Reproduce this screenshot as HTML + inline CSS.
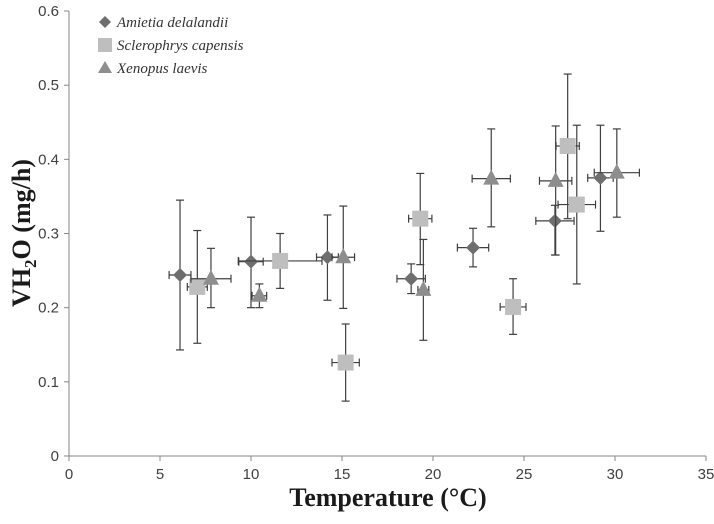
<!DOCTYPE html>
<html><head><meta charset="utf-8"><style>
body{margin:0;background:#fff}
svg text{font-family:"Liberation Sans",sans-serif}
</style></head><body>
<svg id="c" width="714" height="519" xmlns="http://www.w3.org/2000/svg"></svg>
<script>
const xTicks=[0,5,10,15,20,25,30,35];
const yTicks=[0,0.1,0.2,0.3,0.4,0.5,0.6];
const yTickLabels=["0","0.1","0.2","0.3","0.4","0.5","0.6"];
const seriesNames=["Amietia delalandii","Sclerophrys capensis","Xenopus laevis"];
const amX=[6.1,10.0,14.2,18.8,22.2,26.7,29.2];
const amY=[0.244,0.262,0.268,0.239,0.281,0.317,0.375];
const amYlo=[0.143,0.200,0.210,0.219,0.255,0.271,0.303];
const amYhi=[0.345,0.322,0.325,0.259,0.307,0.338,0.446];
const amXe=[0.6,0.67,0.6,0.78,0.86,1.05,0.7];
const scX=[7.05,11.6,15.2,19.3,24.4,27.4,27.9];
const scY=[0.228,0.263,0.126,0.320,0.201,0.418,0.339];
const scYlo=[0.152,0.226,0.074,0.258,0.164,0.320,0.232];
const scYhi=[0.304,0.300,0.178,0.381,0.239,0.515,0.446];
const scXe=[0.55,2.3,0.75,0.64,0.71,0.64,1.03];
const xlX=[7.8,10.46,15.07,19.47,23.2,26.74,30.1];
const xlY=[0.239,0.216,0.268,0.224,0.374,0.371,0.382];
const xlYlo=[0.200,0.200,0.199,0.156,0.309,0.271,0.322];
const xlYhi=[0.280,0.232,0.337,0.292,0.441,0.445,0.441];
const xlXe=[1.1,0.4,0.62,0.3,1.05,0.89,1.24];

const X0=69,X1=706,Y0=456,Y1=11;
const sx=v=>X0+(v-0)/35*(X1-X0);
const sy=v=>Y0-(v/0.6)*(Y0-Y1);
const svg=document.getElementById('c');
const NS="http://www.w3.org/2000/svg";
function mk(tag,attrs,parent){const e=document.createElementNS(NS,tag);for(const k in attrs)e.setAttribute(k,attrs[k]);(parent||svg).appendChild(e);return e;}

// axes
let ax=mk('line',{x1:X0,y1:Y1,x2:X0,y2:Y0,stroke:'#868686','stroke-width':1});


ax=mk('line',{x1:X0,y1:Y0,x2:X1,y2:Y0,stroke:'#868686','stroke-width':1});


xTicks.forEach(t=>{
  mk('line',{x1:sx(t),y1:Y0,x2:sx(t),y2:Y0+5,stroke:'#868686'});
  const tx=mk('text',{x:sx(t),y:Y0+23,'text-anchor':'middle','font-size':15,fill:'#404040'});
  tx.textContent=t;
  
  
});
yTicks.forEach((t,i)=>{
  mk('line',{x1:X0-5,y1:sy(t),x2:X0,y2:sy(t),stroke:'#868686'});
  const tx=mk('text',{x:X0-10,y:sy(t)+5,'text-anchor':'end','font-size':15,fill:'#404040'});
  tx.textContent=yTickLabels[i];
  
  
});
let t=mk('text',{x:388,y:506,'text-anchor':'middle','font-size':26,'font-weight':'bold',fill:'#1a1a1a',style:'font-family:"Liberation Serif",serif'});
t.textContent='Temperature (°C)';


t=mk('text',{x:0,y:0,'text-anchor':'middle','font-size':26,'font-weight':'bold',fill:'#1a1a1a',transform:'translate(30,233) rotate(-90)',style:'font-family:"Liberation Serif",serif'});
t.innerHTML='VH<tspan font-size="17" dy="6">2</tspan><tspan dy="-6">O (mg/h)</tspan>';



const colors=['#6e6e6e','#bebebe','#8e8e8e'];
function marker(k,cx,cy,g){
  if(k===0) return mk('polygon',{points:`${cx},${cy-7} ${cx+7},${cy} ${cx},${cy+7} ${cx-7},${cy}`,fill:colors[0]},g);
  if(k===1) return mk('rect',{x:cx-8,y:cy-8,width:16,height:16,fill:colors[1]},g);
  return mk('polygon',{points:`${cx},${cy-9} ${cx+8},${cy+6} ${cx-8},${cy+6}`,fill:colors[2]},g);
}
const all=[[amX,amY,amYlo,amYhi,amXe],[scX,scY,scYlo,scYhi,scXe],[xlX,xlY,xlYlo,xlYhi,xlXe]];
all.forEach((s,k)=>{
  const g=mk('g',{});
  
  
  s[0].forEach((xv,i)=>{
    const cx=sx(xv),cy=sy(s[1][i]);
    const st={stroke:'#3f3f3f','stroke-width':1.2};
    const ylo=sy(s[2][i]),yhi=sy(s[3][i]),xl=sx(xv-s[4][i]),xr=sx(xv+s[4][i]);
    mk('line',Object.assign({x1:cx,y1:yhi,x2:cx,y2:ylo},st),g);
    mk('line',Object.assign({x1:cx-4,y1:yhi,x2:cx+4,y2:yhi},st),g);
    mk('line',Object.assign({x1:cx-4,y1:ylo,x2:cx+4,y2:ylo},st),g);
    mk('line',Object.assign({x1:xl,y1:cy,x2:xr,y2:cy},st),g);
    mk('line',Object.assign({x1:xl,y1:cy-4,x2:xl,y2:cy+4},st),g);
    mk('line',Object.assign({x1:xr,y1:cy-4,x2:xr,y2:cy+4},st),g);
    const m=marker(k,cx,cy,g);
    
    
  });
});
// legend
seriesNames.forEach((n,k)=>{
  const y=22+k*23;
  const g=mk('g',{});
  
  
  if(k===0) mk('polygon',{points:`105,${y-6} 111,${y} 105,${y+6} 99,${y}`,fill:colors[0]},g);
  else if(k===1) mk('rect',{x:98,y:y-7,width:14,height:14,fill:colors[1]},g);
  else mk('polygon',{points:`105,${y-7} 112,${y+5} 98,${y+5}`,fill:colors[2]},g);
  const tx=mk('text',{x:117,y:y+5,'font-size':15,'font-style':'italic',fill:'#333',style:'font-family:"Liberation Serif",serif'},g);
  tx.textContent=n;
});
</script>
</body></html>
